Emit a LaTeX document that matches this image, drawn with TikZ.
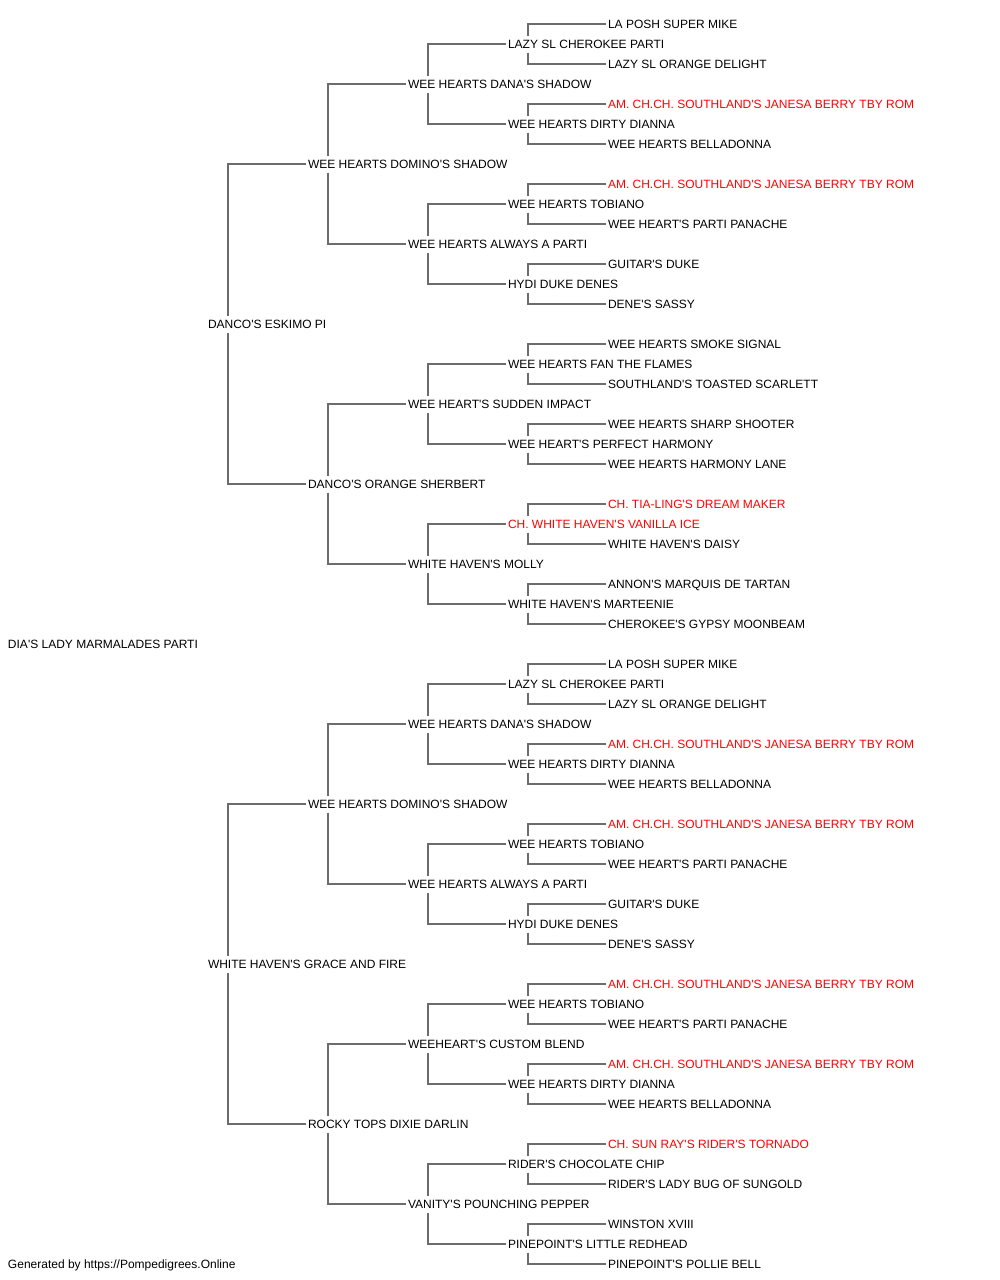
\documentclass[tikz,border=0pt]{standalone}
\usepackage{fontspec}
\setmainfont{Liberation Sans}[Ligatures=TeXOff]
\usetikzlibrary{calc}
\definecolor{linegray}{RGB}{108,108,108}
\definecolor{champred}{RGB}{255,0,0}
\newcommand\pedlink[3]{%
  \draw[conn] ($(#1.base west)+(20,13)$) |- ($(#2.base west)+(-2,4.4)$);
  \draw[conn] ($(#1.base west)+(20,-4)$) |- ($(#3.base west)+(-2,4.4)$);}
\tikzset{
  dog/.style={anchor=base west, inner sep=0pt, outer sep=0pt, font=\fontsize{12}{14}\selectfont, text=black},
  champ/.style={dog, text=champred},
  conn/.style={draw=linegray, line width=1.9pt}
}
\begin{document}
\begin{tikzpicture}[x=1pt,y=1pt]
\useasboundingbox (0,0) rectangle (1000,-1280);
% generation x positions: 8, 208, 308, 408, 508, 608
\node[dog]   (n0)  at (608,{-(20*0+28.7)})  {LA POSH SUPER MIKE};
\node[dog]   (n1)  at (508,{-(20*1+28.7)})  {LAZY SL CHEROKEE PARTI};
\node[dog]   (n2)  at (608,{-(20*2+28.7)})  {LAZY SL ORANGE DELIGHT};
\node[dog]   (n3)  at (408,{-(20*3+28.7)})  {WEE HEARTS DANA'S SHADOW};
\node[champ] (n4)  at (608,{-(20*4+28.7)})  {AM. CH.CH. SOUTHLAND'S JANESA BERRY TBY ROM};
\node[dog]   (n5)  at (508,{-(20*5+28.7)})  {WEE HEARTS DIRTY DIANNA};
\node[dog]   (n6)  at (608,{-(20*6+28.7)})  {WEE HEARTS BELLADONNA};
\node[dog]   (n7)  at (308,{-(20*7+28.7)})  {WEE HEARTS DOMINO'S SHADOW};
\node[champ] (n8)  at (608,{-(20*8+28.7)})  {AM. CH.CH. SOUTHLAND'S JANESA BERRY TBY ROM};
\node[dog]   (n9)  at (508,{-(20*9+28.7)})  {WEE HEARTS TOBIANO};
\node[dog]   (n10) at (608,{-(20*10+28.7)}) {WEE HEART'S PARTI PANACHE};
\node[dog]   (n11) at (408,{-(20*11+28.7)}) {WEE HEARTS ALWAYS A PARTI};
\node[dog]   (n12) at (608,{-(20*12+28.7)}) {GUITAR'S DUKE};
\node[dog]   (n13) at (508,{-(20*13+28.7)}) {HYDI DUKE DENES};
\node[dog]   (n14) at (608,{-(20*14+28.7)}) {DENE'S SASSY};
\node[dog]   (n15) at (208,{-(20*15+28.7)}) {DANCO'S ESKIMO PI};
\node[dog]   (n16) at (608,{-(20*16+28.7)}) {WEE HEARTS SMOKE SIGNAL};
\node[dog]   (n17) at (508,{-(20*17+28.7)}) {WEE HEARTS FAN THE FLAMES};
\node[dog]   (n18) at (608,{-(20*18+28.7)}) {SOUTHLAND'S TOASTED SCARLETT};
\node[dog]   (n19) at (408,{-(20*19+28.7)}) {WEE HEART'S SUDDEN IMPACT};
\node[dog]   (n20) at (608,{-(20*20+28.7)}) {WEE HEARTS SHARP SHOOTER};
\node[dog]   (n21) at (508,{-(20*21+28.7)}) {WEE HEART'S PERFECT HARMONY};
\node[dog]   (n22) at (608,{-(20*22+28.7)}) {WEE HEARTS HARMONY LANE};
\node[dog]   (n23) at (308,{-(20*23+28.7)}) {DANCO'S ORANGE SHERBERT};
\node[champ] (n24) at (608,{-(20*24+28.7)}) {CH. TIA-LING'S DREAM MAKER};
\node[champ] (n25) at (508,{-(20*25+28.7)}) {CH. WHITE HAVEN'S VANILLA ICE};
\node[dog]   (n26) at (608,{-(20*26+28.7)}) {WHITE HAVEN'S DAISY};
\node[dog]   (n27) at (408,{-(20*27+28.7)}) {WHITE HAVEN'S MOLLY};
\node[dog]   (n28) at (608,{-(20*28+28.7)}) {ANNON'S MARQUIS DE TARTAN};
\node[dog]   (n29) at (508,{-(20*29+28.7)}) {WHITE HAVEN'S MARTEENIE};
\node[dog]   (n30) at (608,{-(20*30+28.7)}) {CHEROKEE'S GYPSY MOONBEAM};
\node[dog]   (n31) at (8,{-(20*31+28.7)})   {DIA'S LADY MARMALADES PARTI};
\node[dog]   (n32) at (608,{-(20*32+28.7)}) {LA POSH SUPER MIKE};
\node[dog]   (n33) at (508,{-(20*33+28.7)}) {LAZY SL CHEROKEE PARTI};
\node[dog]   (n34) at (608,{-(20*34+28.7)}) {LAZY SL ORANGE DELIGHT};
\node[dog]   (n35) at (408,{-(20*35+28.7)}) {WEE HEARTS DANA'S SHADOW};
\node[champ] (n36) at (608,{-(20*36+28.7)}) {AM. CH.CH. SOUTHLAND'S JANESA BERRY TBY ROM};
\node[dog]   (n37) at (508,{-(20*37+28.7)}) {WEE HEARTS DIRTY DIANNA};
\node[dog]   (n38) at (608,{-(20*38+28.7)}) {WEE HEARTS BELLADONNA};
\node[dog]   (n39) at (308,{-(20*39+28.7)}) {WEE HEARTS DOMINO'S SHADOW};
\node[champ] (n40) at (608,{-(20*40+28.7)}) {AM. CH.CH. SOUTHLAND'S JANESA BERRY TBY ROM};
\node[dog]   (n41) at (508,{-(20*41+28.7)}) {WEE HEARTS TOBIANO};
\node[dog]   (n42) at (608,{-(20*42+28.7)}) {WEE HEART'S PARTI PANACHE};
\node[dog]   (n43) at (408,{-(20*43+28.7)}) {WEE HEARTS ALWAYS A PARTI};
\node[dog]   (n44) at (608,{-(20*44+28.7)}) {GUITAR'S DUKE};
\node[dog]   (n45) at (508,{-(20*45+28.7)}) {HYDI DUKE DENES};
\node[dog]   (n46) at (608,{-(20*46+28.7)}) {DENE'S SASSY};
\node[dog]   (n47) at (208,{-(20*47+28.7)}) {WHITE HAVEN'S GRACE AND FIRE};
\node[champ] (n48) at (608,{-(20*48+28.7)}) {AM. CH.CH. SOUTHLAND'S JANESA BERRY TBY ROM};
\node[dog]   (n49) at (508,{-(20*49+28.7)}) {WEE HEARTS TOBIANO};
\node[dog]   (n50) at (608,{-(20*50+28.7)}) {WEE HEART'S PARTI PANACHE};
\node[dog]   (n51) at (408,{-(20*51+28.7)}) {WEEHEART'S CUSTOM BLEND};
\node[champ] (n52) at (608,{-(20*52+28.7)}) {AM. CH.CH. SOUTHLAND'S JANESA BERRY TBY ROM};
\node[dog]   (n53) at (508,{-(20*53+28.7)}) {WEE HEARTS DIRTY DIANNA};
\node[dog]   (n54) at (608,{-(20*54+28.7)}) {WEE HEARTS BELLADONNA};
\node[dog]   (n55) at (308,{-(20*55+28.7)}) {ROCKY TOPS DIXIE DARLIN};
\node[champ] (n56) at (608,{-(20*56+28.7)}) {CH. SUN RAY'S RIDER'S TORNADO};
\node[dog]   (n57) at (508,{-(20*57+28.7)}) {RIDER'S CHOCOLATE CHIP};
\node[dog]   (n58) at (608,{-(20*58+28.7)}) {RIDER'S LADY BUG OF SUNGOLD};
\node[dog]   (n59) at (408,{-(20*59+28.7)}) {VANITY'S POUNCHING PEPPER};
\node[dog]   (n60) at (608,{-(20*60+28.7)}) {WINSTON XVIII};
\node[dog]   (n61) at (508,{-(20*61+28.7)}) {PINEPOINT'S LITTLE REDHEAD};
\node[dog]   (n62) at (608,{-(20*62+28.7)}) {PINEPOINT'S POLLIE BELL};
\node[dog]   (footer) at (8,{-(20*62+28.7)}) {Generated by https://Pompedigrees.Online};
% connectors: parent row / offset to its two children
\foreach \r/\d in {1/1,5/1,9/1,13/1,17/1,21/1,25/1,29/1,33/1,37/1,41/1,45/1,49/1,53/1,57/1,61/1,
                   3/2,11/2,19/2,27/2,35/2,43/2,51/2,59/2,
                   7/4,23/4,39/4,55/4,
                   15/8,47/8}{
  \pgfmathtruncatemacro\ra{\r-\d}
  \pgfmathtruncatemacro\rb{\r+\d}
  \pedlink{n\r}{n\ra}{n\rb}
}
\end{tikzpicture}
\end{document}
